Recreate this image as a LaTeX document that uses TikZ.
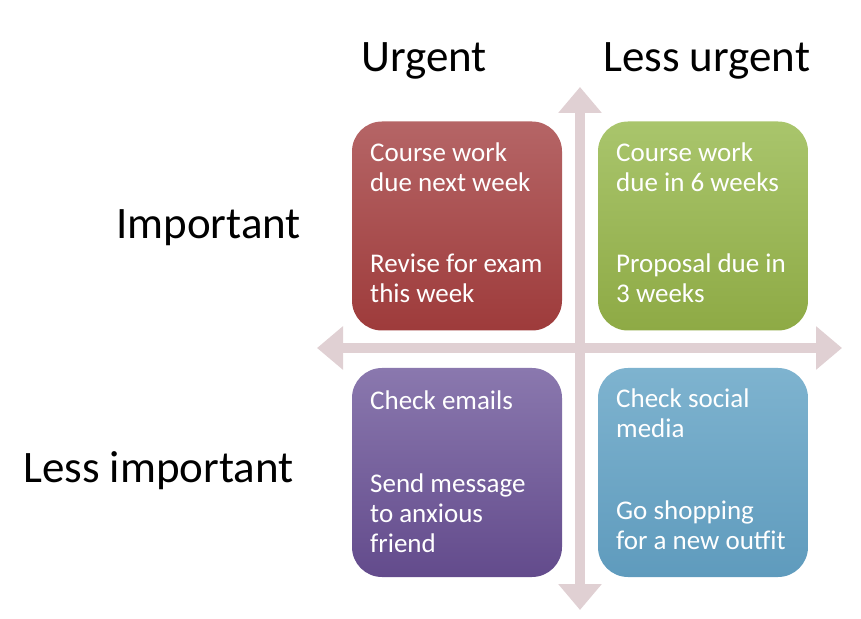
\documentclass[tikz,border=0pt]{standalone}
\usepackage{fontspec}
\setmainfont{Carlito}
\usetikzlibrary{arrows.meta}
\definecolor{redtop}{HTML}{B56566}
\definecolor{redbot}{HTML}{9E3B3B}
\definecolor{greentop}{HTML}{A9C56C}
\definecolor{greenbot}{HTML}{8EAA45}
\definecolor{purptop}{HTML}{8A78AE}
\definecolor{purpbot}{HTML}{634B8C}
\definecolor{bluetop}{HTML}{7EB3CF}
\definecolor{bluebot}{HTML}{5F9BBD}
\definecolor{axiscol}{HTML}{E0D0D3}
\tikzset{
  quad/.style={rectangle, rounded corners=30pt, minimum width=210pt, minimum height=209pt, inner sep=0pt},
  item/.style={anchor=base west, align=left, inner sep=0pt, text=white, font=\fontsize{27pt}{30pt}\selectfont},
  header/.style={anchor=base west, inner sep=0pt, text=black, font=\fontsize{45pt}{54pt}\selectfont},
  axisarrow/.style={draw=axiscol, line width=10pt, {Triangle[length=26pt,width=42pt]}-{Triangle[length=26pt,width=42pt]}}
}
\begin{document}
\begin{tikzpicture}[x=1pt,y=1pt]
\useasboundingbox (0,0) rectangle (861,618);
% axes
\coordinate (vt) at (580,531);
\coordinate (vb) at (580,8);
\coordinate (hl) at (317,270);
\coordinate (hr) at (842,270);
\draw[axisarrow] (vb) -- (vt);
\draw[axisarrow] (hl) -- (hr);
% quadrants
\node[quad, top color=redtop, bottom color=redbot] (red) at (457,392) {};
\node[quad, top color=greentop, bottom color=greenbot] (green) at (703,392) {};
\node[quad, top color=purptop, bottom color=purpbot] (purple) at (457,145.5) {};
\node[quad, top color=bluetop, bottom color=bluebot] (blue) at (703,145.5) {};
% items (anchored at the baseline of their last line)
\node[item] (r1) at (370,426) {Course work\\due next week};
\node[item] (r2) at (370,315) {Revise for exam\\this week};
\node[item] (g1) at (616,426) {Course work\\due in 6 weeks};
\node[item] (g2) at (616,315) {Proposal due in\\3 weeks};
\node[item] (p1) at (370,208) {Check emails};
\node[item] (p2) at (370,66) {Send message\\to anxious\\friend};
\node[item] (b1) at (616,180) {Check social\\media};
\node[item] (b2) at (616,68) {Go shopping\\for a new outfit};
% headers
\node[header] (urg) at (361,546) {Urgent};
\node[header] (lurg) at (603,546) {Less urgent};
\node[header] (imp) at (116,379) {Important};
\node[header] (limp) at (23,135) {Less important};
\end{tikzpicture}
\end{document}
